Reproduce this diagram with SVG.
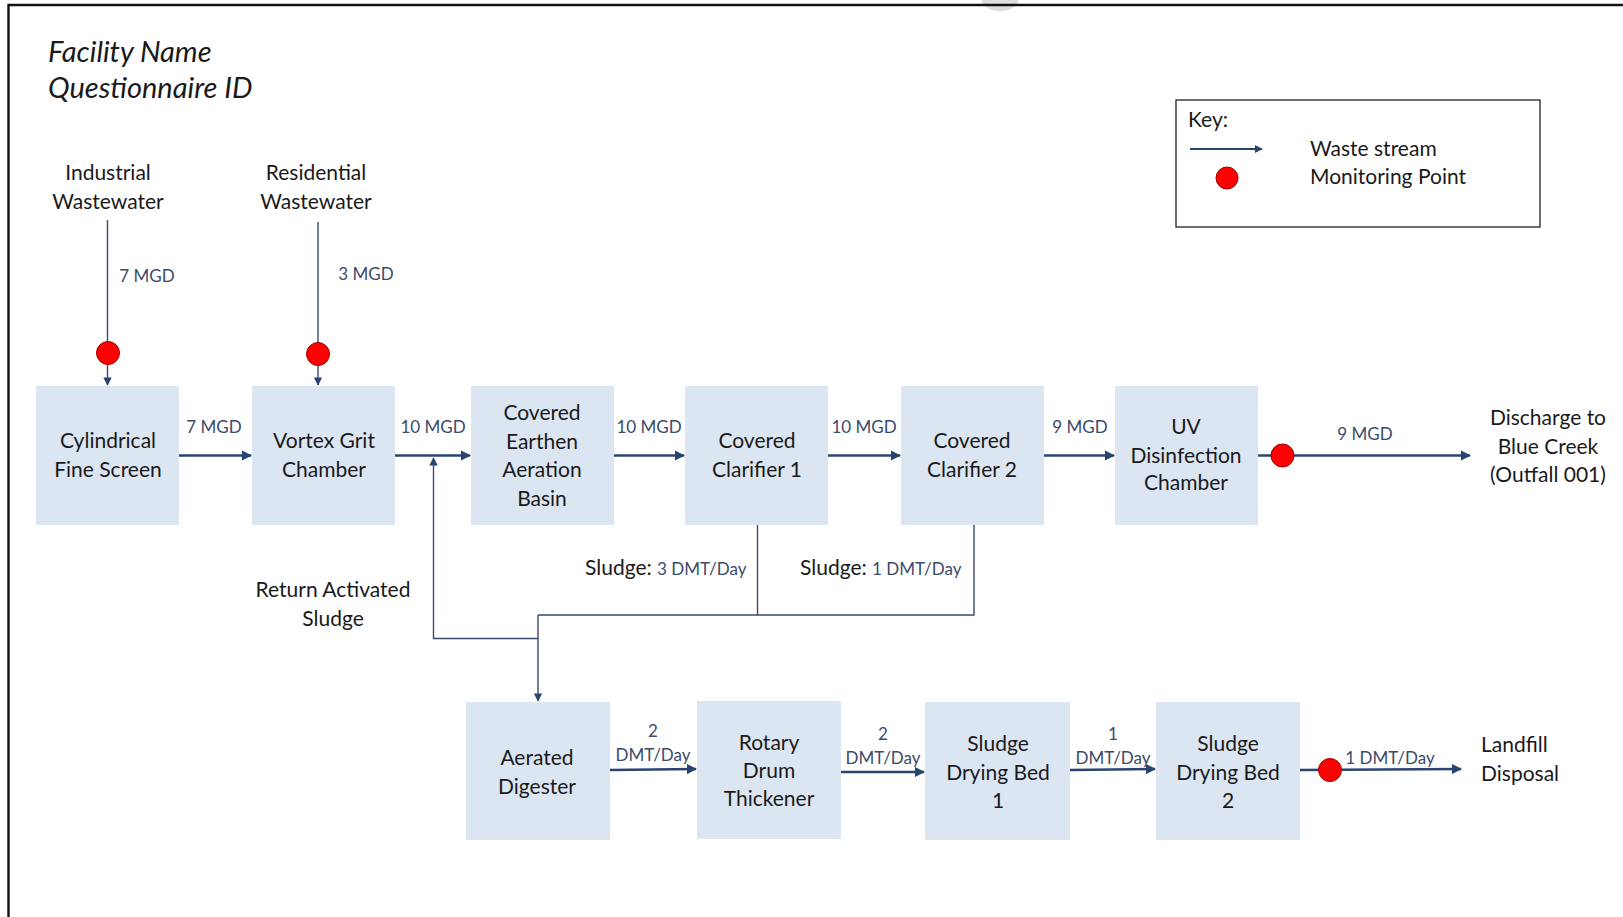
<svg xmlns="http://www.w3.org/2000/svg" width="1623" height="917" viewBox="0 0 1623 917">
<defs>
<marker id="ah" viewBox="0 0 10 10" refX="9" refY="5" markerWidth="4" markerHeight="4" orient="auto" markerUnits="strokeWidth">
<path d="M0,0 L10,5 L0,10 z" fill="#2A4470"/>
</marker>
<marker id="ahs" viewBox="0 0 10 10" refX="9" refY="5" markerWidth="6" markerHeight="6" orient="auto" markerUnits="strokeWidth">
<path d="M0,0 L10,5 L0,10 z" fill="#2A4470"/>
</marker>
</defs>
<style>
text{font-family:Lato,"Open Sans","Liberation Sans",sans-serif;}
.box{fill:#DCE6F2;}
.t{font-size:21px;fill:#1a1a1a;text-anchor:middle;}
.tl{font-size:21px;fill:#1a1a1a;}
.lbl{font-size:17px;fill:#3B4B6B;text-anchor:middle;}
.flow{stroke:#2A4470;stroke-width:2.6;fill:none;marker-end:url(#ah);}
.thin{stroke:#3B4B6B;stroke-width:1.4;fill:none;}
.thina{stroke:#3B4B6B;stroke-width:1.4;fill:none;marker-end:url(#ahs);}
.mp{fill:#FF0000;stroke:#A00000;stroke-width:1;}
.title{font-size:29px;font-style:italic;fill:#1a1a1a;}
</style>
<rect x="0" y="0" width="1623" height="917" fill="#fff"/>
<ellipse cx="1000" cy="0" rx="18" ry="11" fill="#DDDDDD"/>
<path d="M8.5,917 V5 H1623" stroke="#111" stroke-width="2.4" fill="none"/>

<g id="title">
<text class="title" x="48" y="62">Facility Name</text>
<text class="title" x="48" y="98">Questionnaire ID</text>
</g>

<g id="key">
<rect x="1176" y="100" width="364" height="127" fill="none" stroke="#222" stroke-width="1.3"/>
<text class="tl" x="1188" y="127">Key:</text>
<line x1="1190" y1="149" x2="1262" y2="149" class="flow" style="stroke-width:2"/>
<circle cx="1227" cy="178" r="11" class="mp"/>
<text class="tl" x="1310" y="156">Waste stream</text>
<text class="tl" x="1310" y="184">Monitoring Point</text>
</g>

<g id="src-industrial"><text class="t" x="108" y="180">Industrial</text><text class="t" x="108" y="209">Wastewater</text></g>
<g id="src-residential"><text class="t" x="316" y="180">Residential</text><text class="t" x="316" y="209">Wastewater</text></g>

<g id="n1"><rect class="box" x="36" y="386" width="143" height="139"/><text class="t" x="108" y="448">Cylindrical</text><text class="t" x="108" y="477">Fine Screen</text></g>
<g id="n2"><rect class="box" x="252" y="386" width="143" height="139"/><text class="t" x="324" y="448">Vortex Grit</text><text class="t" x="324" y="477">Chamber</text></g>
<g id="n3"><rect class="box" x="471" y="386" width="143" height="139"/><text class="t" x="542" y="420">Covered</text><text class="t" x="542" y="449">Earthen</text><text class="t" x="542" y="477">Aeration</text><text class="t" x="542" y="506">Basin</text></g>
<g id="n4"><rect class="box" x="685" y="386" width="143" height="139"/><text class="t" x="757" y="448">Covered</text><text class="t" x="757" y="477">Clarifier 1</text></g>
<g id="n5"><rect class="box" x="901" y="386" width="143" height="139"/><text class="t" x="972" y="448">Covered</text><text class="t" x="972" y="477">Clarifier 2</text></g>
<g id="n6"><rect class="box" x="1115" y="386" width="143" height="139"/><text class="t" x="1186" y="434">UV</text><text class="t" x="1186" y="463">Disinfection</text><text class="t" x="1186" y="490">Chamber</text></g>
<g id="out-discharge"><text class="t" x="1548" y="425">Discharge to</text><text class="t" x="1548" y="454">Blue Creek</text><text class="t" x="1548" y="482">(Outfall 001)</text></g>

<g id="n7"><rect class="box" x="466" y="702" width="144" height="138"/><text class="t" x="537" y="765">Aerated</text><text class="t" x="537" y="794">Digester</text></g>
<g id="n8"><rect class="box" x="697" y="701" width="144" height="138"/><text class="t" x="769" y="750">Rotary</text><text class="t" x="769" y="778">Drum</text><text class="t" x="769" y="806">Thickener</text></g>
<g id="n9"><rect class="box" x="925" y="702" width="145" height="138"/><text class="t" x="998" y="751">Sludge</text><text class="t" x="998" y="780">Drying Bed</text><text class="t" x="998" y="808">1</text></g>
<g id="n10"><rect class="box" x="1156" y="702" width="144" height="138"/><text class="t" x="1228" y="751">Sludge</text><text class="t" x="1228" y="780">Drying Bed</text><text class="t" x="1228" y="808">2</text></g>
<g id="out-landfill"><text class="tl" x="1481" y="752">Landfill</text><text class="tl" x="1481" y="781">Disposal</text></g>

<g id="connectors">
<line class="thina" x1="107.5" y1="220" x2="107.5" y2="385"/>
<line class="thina" x1="318" y1="222" x2="318" y2="385"/>
<line class="flow" x1="179" y1="455.5" x2="251" y2="455.5"/>
<line class="flow" x1="395" y1="455.5" x2="470" y2="455.5"/>
<line class="flow" x1="614" y1="455.5" x2="684" y2="455.5"/>
<line class="flow" x1="828" y1="455.5" x2="900" y2="455.5"/>
<line class="flow" x1="1044" y1="455.5" x2="1114" y2="455.5"/>
<line class="flow" x1="1258" y1="455.5" x2="1470" y2="455.5"/>
<polyline class="thin" points="757.5,525 757.5,615"/>
<polyline class="thin" points="974,525 974,615 538,615"/>
<polyline class="thina" points="538,615 538,701"/>
<polyline class="thina" points="538,638.5 433.5,638.5 433.5,458"/>
<line class="flow" x1="610" y1="770" x2="696" y2="769"/>
<line class="flow" x1="841" y1="772" x2="924" y2="772"/>
<line class="flow" x1="1070" y1="770" x2="1155" y2="769"/>
<line class="flow" x1="1300" y1="770" x2="1461" y2="769"/>
</g>

<g id="monitoring-points">
<circle cx="108" cy="353" r="11.5" class="mp"/>
<circle cx="318" cy="354" r="11.5" class="mp"/>
<circle cx="1282.5" cy="455.5" r="11.5" class="mp"/>
<circle cx="1330" cy="770" r="11.5" class="mp"/>
</g>

<g id="labels">
<text class="lbl" x="147" y="282">7 MGD</text>
<text class="lbl" x="366" y="280">3 MGD</text>
<text class="lbl" x="214" y="433">7 MGD</text>
<text class="lbl" x="433" y="433">10 MGD</text>
<text class="lbl" x="649" y="433">10 MGD</text>
<text class="lbl" x="864" y="433">10 MGD</text>
<text class="lbl" x="1080" y="433">9 MGD</text>
<text class="lbl" x="1365" y="440">9 MGD</text>
<text class="tl" x="585" y="575">Sludge: <tspan style="font-size:17px;fill:#3B4B6B">3 DMT/Day</tspan></text>
<text class="tl" x="800" y="575">Sludge: <tspan style="font-size:17px;fill:#3B4B6B">1 DMT/Day</tspan></text>
<text class="t" x="333" y="597">Return Activated</text>
<text class="t" x="333" y="626">Sludge</text>
<text class="lbl" x="653" y="737">2</text>
<text class="lbl" x="653" y="761">DMT/Day</text>
<text class="lbl" x="883" y="740">2</text>
<text class="lbl" x="883" y="764">DMT/Day</text>
<text class="lbl" x="1113" y="740">1</text>
<text class="lbl" x="1113" y="764">DMT/Day</text>
<text class="lbl" x="1390" y="764">1 DMT/Day</text>
</g>
</svg>
